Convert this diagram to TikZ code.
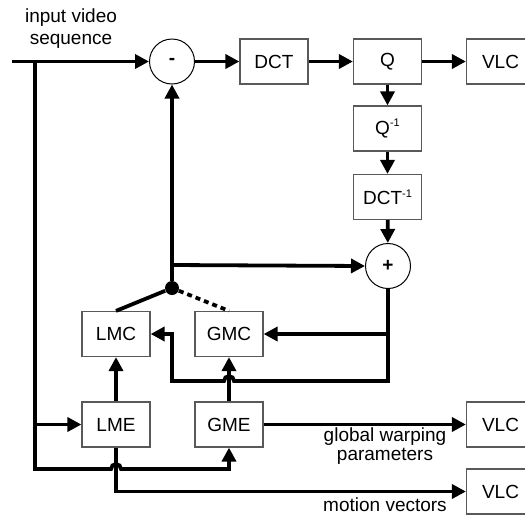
\documentclass[tikz,border=0pt]{standalone}
\usepackage{fontspec}
\setmainfont{Liberation Sans}
\usetikzlibrary{arrows.meta}
\newcommand{\inv}{\raisebox{0.7ex}{\fontsize{5.5}{6}\selectfont -1}}

\begin{document}
\begin{tikzpicture}[x=0.5pt, y=0.5pt,
	block/.style={draw=black!65, line width=0.6pt, minimum width=34pt, minimum height=22.5pt},
	adder/.style={draw, circle, line width=0.5pt, minimum size=22.5pt},
	wire/.style={line width=1.9pt},
	flow/.style={wire, -{Triangle[length=7pt,width=7pt]}}]
	\tikzstyle{every node}+=[inner sep=0pt, font=\fontsize{9.5}{11}\selectfont]
	\useasboundingbox (0,0) rectangle (525,-515);
	\node (inlabel) [align=center] at (71,-29) {input video\\sequence};
	\node [adder] (minus) at (172,-61.5) {\textbf{-}};
	\node [block] (DCT) at (274,-61.5) {DCT};
	\node [block] (Q) at (387.5,-61.5) {Q};
	\node [block] (VLCa) at (500.5,-61.5) {VLC};
	\node [block] (Qinv) at (387.5,-128.5) {Q\inv};
	\node [block] (DCTinv) at (387.5,-197) {DCT\inv};
	\node [adder] (plus) at (388,-266) {\textbf{+}};
	\node [circle, fill, minimum size=7pt] (dot) at (172,-288) {};
	\node [block] (LMC) at (116,-334) {LMC};
	\node [block] (GMC) at (229,-334) {GMC};
	\node [block] (LME) at (116,-424.5) {LME};
	\node [block] (GME) at (229,-424.5) {GME};
	\node [block] (VLCb) at (500.5,-424.5) {VLC};
	\node [block] (VLCc) at (500.5,-491.5) {VLC};
	\node (gwp) [align=center, font=\fontsize{9.5}{9.5}\selectfont] at (385,-446) {global warping\\parameters};
	\node (mv) at (385,-505) {motion vectors};
	\coordinate (src) at (12,-61.5);
	\coordinate (split) at (35,-61.5);
	\coordinate (low) at (35,-469);
	\coordinate (tap) at (172,-265);
	\coordinate (fbA) at (388,-381);
	\coordinate (fbB) at (172,-381);
	% forward path
	\draw [flow] (src) -- (minus.west);
	\draw [flow] (minus) -- (DCT);
	\draw [flow] (DCT) -- (Q);
	\draw [flow] (Q) -- (VLCa);
	\draw [flow] (Q) -- (Qinv);
	\draw [flow] (Qinv) -- (DCTinv);
	\draw [flow] (DCTinv) -- (plus);
	% prediction loop
	\draw [flow] (dot) -- (minus.south);
	\draw [flow] (tap) -- (plus.west);
	\draw [wire] (dot) -- (LMC.north);
	\draw [wire, dash pattern=on 2.5pt off 2pt] (dot) -- (GMC.north);
	\draw [flow] (plus.south) -- (fbA) -- (234,-381) arc [start angle=0, end angle=180, radius=2.5pt] -- (fbB) |- (LMC.east);
	\draw [flow] (plus.south |- GMC.east) -- (GMC.east);
	\draw [flow] (GME) -- (GMC);
	\draw [flow] (LME) -- (LMC);
	% motion estimation
	\draw [flow] (split) |- (LME.west);
	\draw [flow] (split) -- (low) -- (111,-469) arc [start angle=180, end angle=0, radius=2.5pt] -- (GME.south |- low) -- (GME.south);
	\draw [flow] (LME.south) |- (VLCc.west);
	\draw [flow] (GME) -- (VLCb);
\end{tikzpicture}
\end{document}
